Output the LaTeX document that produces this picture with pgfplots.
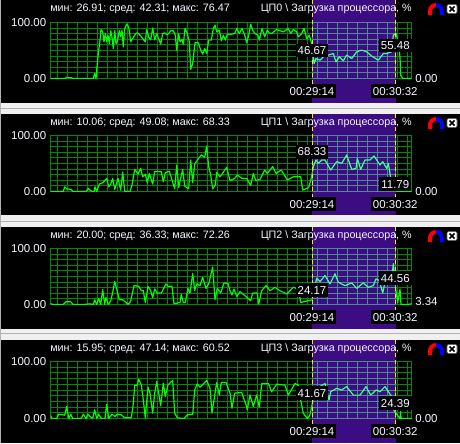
\documentclass[border=0pt]{standalone}
\usepackage{pgfplots}
\pgfplotsset{compat=1.18}
\usepackage{pgfplotstable}
\usepackage{fontspec}
\setmainfont{Liberation Sans}
\definecolor{gridg}{HTML}{008A00}
\definecolor{gridp}{HTML}{4A8A90}
\definecolor{sel}{HTML}{3C0C82}
\definecolor{mint}{HTML}{40FF90}
\definecolor{ln}{HTML}{00FF00}
\definecolor{pagebg}{HTML}{F0F0F0}
\definecolor{txt}{HTML}{F4F8FF}
\pgfplotstableread[row sep=\\]{x y\\50 0\\65 0\\66.7 1.8\\71.7 1.2\\72.7 0\\93.3 0\\94.7 8.9\\96 0\\97.3 26.8\\98.7 50.6\\100 68.5\\101 87.5\\102.7 83.3\\104 65.5\\105.3 80.4\\106.7 65.5\\108 77.4\\109.3 62.5\\110.7 85.3\\112 73.8\\113.3 53.6\\114.7 85.3\\116 62.5\\117.3 65.5\\119.3 85.3\\120.7 74.4\\122 86.3\\123.3 56.5\\124.7 89.3\\126.7 97\\128.7 92.3\\130.7 65.5\\132.7 71.4\\134.7 77.4\\136 80.4\\137.3 81.5\\140 77.4\\142.7 71.4\\145.3 65.5\\146.7 87.5\\148.7 73.8\\150.7 69\\152.7 90.3\\154.7 69\\156.7 80.4\\158.7 71.4\\160.7 61.3\\162.7 80.4\\164.7 81.5\\166.7 78\\168.7 80.4\\170.7 85.3\\173.3 85.3\\175.3 77.4\\176.7 50.6\\178.7 80.4\\180 65.5\\182 69.6\\183.3 61.3\\185 89.3\\187.3 80.4\\189.3 65.5\\190.7 16.1\\192.7 26.8\\195 63.7\\198.3 63.7\\200.7 50.6\\202.7 43.5\\204.7 53.6\\206.7 44.6\\208.7 68.5\\211.3 68.5\\213.3 89.3\\215 95.2\\216.7 83.3\\219.3 86.3\\221.3 67.3\\223.3 77.4\\225.3 68.5\\227.3 79.2\\230 78.6\\234.7 80.4\\236.7 89.3\\239.3 80.4\\242 89.3\\244.7 77.4\\246.7 63.7\\248.7 77.4\\250.7 97\\252.7 86.3\\254.7 80.4\\258 77.4\\259.3 68.5\\262 89.3\\264.7 74.4\\267.3 86.3\\269.3 81.5\\271.7 80.4\\276.7 87.5\\283.3 83.3\\288.3 89.3\\290.7 80.4\\293.3 87.5\\296.7 83.3\\298.3 74.4\\301.7 80.4\\304 89.3\\306.7 71.4\\309.3 77.4\\311.7 62.5\\314 26.8\\316 35.7\\320 32.7\\323.3 38.7\\328.3 41.7\\333.3 44.6\\336 29.8\\339.3 38.7\\343.3 31.7\\346.7 41.7\\351.7 35.7\\356.7 47.6\\361.7 50.6\\366.7 47.6\\371.7 40\\378.3 32.7\\383.3 44.6\\386.7 44.6\\391.7 47.6\\393.3 77.4\\396 80.4\\397.7 68.5\\400 38.7\\400.7 6\\402.7 0\\411.7 0\\}\cpua
\pgfplotstableread[row sep=\\]{x y\\50 0\\63.3 0\\64.7 8.4\\66.7 4.8\\71.3 3.6\\72.7 0\\86 0\\88.3 5.4\\91.7 0\\94 0\\95 8.4\\96.7 0\\99.3 13.2\\102.7 15.6\\106.7 23.4\\108.7 8.4\\110.7 13.2\\112.7 23.4\\114.7 3.6\\118 23.4\\120.7 2.4\\122.7 34.7\\124.7 0\\130 0\\132 11.4\\134.7 39.5\\138 31.1\\140.7 41.3\\142.7 26.3\\145.3 31.1\\147.3 15.6\\149.3 32.3\\152.7 13.2\\154.7 35.9\\161.3 35.3\\163.3 17.4\\165.3 33.5\\169.3 36.5\\174.7 4.8\\176.7 47.3\\178.7 7.2\\182.7 39.5\\184.7 9.6\\188.7 4.8\\190.7 56.3\\192.7 15.6\\194.7 49.1\\198.7 59.3\\201.3 65.3\\204.7 61.1\\206.7 81.4\\208.7 44.3\\210.7 29.3\\212.7 4.8\\215.3 11.4\\216.7 34.1\\220 26.3\\226.7 43.1\\230 19.2\\234.7 23.4\\237.3 29.3\\242 23.4\\246.7 23.4\\250.7 10.8\\253.3 32.3\\256 19.2\\260 21.6\\264.7 38.3\\267.3 32.3\\272.7 44.3\\276 32.3\\281.3 38.3\\287.3 20.4\\293.3 26.3\\300.7 26.3\\302.7 2.4\\308.7 7.2\\311.3 23.4\\313.3 44.3\\316 56.3\\318.3 50.3\\321.7 56.3\\325 56.3\\330.7 38.3\\336.7 53.3\\341.7 50.3\\346.7 65.3\\351.7 39.5\\356 41.3\\357.3 59.3\\360.7 39.5\\365 56.3\\370 56.3\\374 63.5\\380 47.3\\382.7 53.3\\386.7 41.3\\388.3 50.3\\390 32.3\\391.3 14.4\\396.7 0\\411.7 0\\}\cpub
\pgfplotstableread[row sep=\\]{x y\\50 1.8\\53.3 0\\63.3 0\\66 4.8\\70.7 4.8\\73.3 0\\83.3 0\\90 1.2\\93.3 0\\94.7 8.4\\96.7 0\\98.7 10.8\\100.7 0\\102.7 26.5\\104.7 0\\106 12.7\\108.3 0\\110.7 6.6\\112.7 21.7\\114.7 41\\116.7 27.7\\119.3 8.4\\122.7 8.4\\126 3.6\\128 0\\130.7 6\\134 33.7\\138.7 32.5\\141.3 24.7\\143.3 24.7\\145.3 3.6\\148 32.5\\150.7 24.7\\152.7 12\\154.7 27.7\\157.3 20.5\\161.3 20.5\\166 36.8\\168 32.5\\172 32.5\\174 1.2\\180 3.6\\181.3 18\\183.3 3.6\\185.3 3.6\\188 28.9\\190 20.5\\192.7 55.4\\194.7 24.7\\196.7 36.8\\200 33.7\\202.7 48.8\\206 28.9\\208.7 36.8\\212.7 66.9\\215 8.4\\217.3 28.9\\220.7 20.5\\224 38.6\\228 37.4\\230 24.7\\232 16.9\\234 27.7\\236.7 14.5\\240 22.9\\245 15.7\\250.7 6.6\\252.7 20.5\\257.3 20.5\\258.7 0.6\\261.7 24.7\\266 33.7\\270 24.7\\275 30.7\\280 24.7\\286.7 18.7\\293.3 30.7\\298.3 27.7\\300.7 3.6\\312 8.4\\316.7 46.9\\320 40.9\\325 51.8\\330 36.8\\335 54.8\\338.3 39.8\\345 33.7\\351.7 38.6\\356.7 28.9\\363.3 38.6\\368.3 30.7\\373.3 33.7\\376 45.8\\379.3 42.8\\382.7 20.5\\385 39.8\\391.7 42.8\\393.3 72.9\\395.7 27.7\\397.7 3.6\\400 27.7\\401 0\\406.7 0\\411.7 1.2\\}\cpuc
\pgfplotstableread[row sep=\\]{x y\\50 7.6\\52 0\\56.7 0\\58.7 7.6\\64.7 5.8\\66.7 21.1\\68.7 0\\70.7 7.6\\72.7 0\\81.3 0\\83.3 7.6\\86 0\\88 7.6\\90 3.5\\92.7 0\\94.7 15.2\\96.7 0\\98.7 7.6\\101.3 0\\105 0\\106.7 25.1\\108.7 0\\112 7.6\\115 3.5\\117.3 7.6\\121.3 6.4\\124.7 1.2\\131.3 1.2\\133.3 25.7\\134.7 58.5\\137.3 58.5\\138.7 69\\141.3 59.1\\143.3 32.7\\145.3 1.2\\148 55\\150 44.5\\152.7 9.4\\154.7 44.5\\156.7 64.9\\158.7 44.5\\160.7 22.2\\163.3 62.1\\165.3 38.6\\168 59.1\\172.7 66.7\\174.7 9.4\\177.3 1.2\\184 0\\187.3 6.4\\192.7 7.6\\194.7 50.3\\197.3 60.8\\200 55\\206.7 66.7\\210 53.2\\212 9.4\\214 32.7\\216.7 63.2\\219.3 41.5\\221.3 63.2\\226 63.2\\230 44.5\\232 18.1\\234.7 44.5\\241.7 45.6\\246 24\\247.3 15.2\\250 41.5\\253.3 21.1\\256.7 41.5\\259.3 19.9\\261.7 61.4\\268.3 61.4\\271.7 47\\276.7 60.2\\285 58.5\\288.3 41\\295 61.4\\298.3 58.5\\300.7 32.2\\303.3 9.4\\307.3 0\\310 6.4\\312.7 29.8\\314 50\\325 61.4\\329 32.2\\330.7 47\\336.7 53\\341.7 50\\346.7 56\\353.3 41\\360 41\\366 56\\370.7 41\\376 50\\380 47\\385 56\\391.7 38.6\\394 14\\400 0\\400.7 12\\401 0\\411.7 0\\}\cpud
\pgfplotsset{
  panelstyle/.style={scale only axis,anchor=south west,
    height=#1,ymin=0,ymax=100,
    xticklabels={},yticklabels={},
    major tick length=0pt,minor tick length=0pt,
    ytick={0,10,20,30,40,50,60,70,80,90,100},
    xmajorgrids,ymajorgrids,
    every axis plot/.append style={line width=0.9pt,mark=none,line join=round}},
}
\newcommand\panelA[7]{%
  \fill[black] (1,#4) rectangle (460,#5);
  \fill[sel] (312,#4) rectangle (396,#5);
  \begin{axis}[panelstyle=#3*0.75pt-#2*0.75pt,at={(50.5*0.75pt,-#3*0.75pt)},
    width=361*0.75pt,xmin=50.5,xmax=411.5,
    xtick={57.5,67.5,...,407.5},
    axis line style={draw=gridg,line width=0.75pt},
    grid style={color=gridg,line width=0.75pt}]
    \addplot[ln] table[x=x,y=y] {#1};
  \end{axis}
  \begin{axis}[panelstyle=#3*0.75pt-#2*0.75pt,at={(312.5*0.75pt,-#3*0.75pt)},
    width=83*0.75pt,xmin=312.5,xmax=395.5,
    xtick={317.5,327.5,...,387.5},
    axis background/.style={fill=sel},
    axis line style={draw=gridp,line width=0.75pt},
    grid style={color=gridp,line width=0.75pt}]
    \addplot[mint] table[x=x,y=y] {#1};
  \end{axis}
  \draw[yellow!90!orange,dash pattern=on 3pt off 2pt,line width=0.75pt] (312.5,#4) -- (312.5,#3+8);
  \draw[yellow!90!orange,dash pattern=on 3pt off 2pt,line width=0.75pt] (395.5,#4) -- (395.5,#3+8);
  \node[lab,anchor=east] at (46.5,#2) {100.00};
  \node[lab,anchor=east] at (46.5,#3) {0.00};
  \node[ttl,anchor=west] at (50,#4+9) {#6};
  \node[ttl,anchor=east] at (412,#4+9) {#7};
}
\newcommand\magnet[1]{%
  \draw[red,line width=3pt] (430,#1+15) -- (430,#1+11) arc[start angle=180,end angle=270,radius=6.0];
  \draw[blue,line width=3pt] (436,#1+5) arc[start angle=270,end angle=360,radius=6.0] -- (442,#1+15);
  \fill[white,rounded corners=1pt] (447,#1+4.5) rectangle (457,#1+13.5);
  \draw[black,line width=1.2pt] (449.5,#1+6.5) -- (454.5,#1+11.5) (449.5,#1+11.5) -- (454.5,#1+6.5);
  \draw[black!60,line width=0.4pt,rounded corners=1pt] (447,#1+4.5) rectangle (457,#1+13.5);
}
\tikzset{lab/.style={text=txt,font=\fontsize{8.6pt}{10pt}\selectfont,inner sep=0pt},
  ttl/.style={text=txt,font=\fontsize{8.05pt}{10pt}\selectfont,inner sep=0pt},
  val/.style={lab,fill=black,inner xsep=1.5pt,inner ysep=2.2pt,text depth=0pt}}
\begin{document}
\begin{tikzpicture}[x=0.75pt,y=-0.75pt]
\clip (0,0) rectangle (460,443);
\fill[pagebg] (0,0) rectangle (460,443);
\draw[black!30,line width=0.6pt] (0,108.5) -- (460,108.5) (0,221) -- (460,221) (0,333) -- (460,333) (0,0) -- (0,443);

\panelA{\cpua}{22.5}{78.5}{0}{103}{мин: 26.91; сред: 42.31; макс: 76.47}{ЦП0 \textbackslash\ Загрузка процессора, \%}
\panelA{\cpub}{135.5}{191.5}{114}{215}{мин: 10.06; сред: 49.08; макс: 68.33}{ЦП1 \textbackslash\ Загрузка процессора, \%}
\panelA{\cpuc}{248.5}{304.5}{227}{329}{мин: 20.00; сред: 36.33; макс: 72.26}{ЦП2 \textbackslash\ Загрузка процессора, \%}
\panelA{\cpud}{361.5}{418.5}{340}{443}{мин: 15.95; сред: 47.14; макс: 60.52}{ЦП3 \textbackslash\ Загрузка процессора, \%}

\node[val] at (312,50.5) {46.67};
\node[val] at (395.3,45.5) {55.48};
\node[val] at (312,91.3) {00:29:14};
\node[val] at (395.3,91.3) {00:30:32};
\node[lab,anchor=west] at (415,78.3) {0.00};

\node[val] at (312,151.7) {68.33};
\node[val] at (395.3,184) {11.79};
\node[val] at (312,204.3) {00:29:14};
\node[val] at (395.3,204.3) {00:30:32};
\node[lab,anchor=west] at (415,191.3) {0.00};

\node[val] at (312,290.3) {24.17};
\node[val] at (395.3,278) {44.56};
\node[val] at (312,317) {00:29:14};
\node[val] at (395.3,317) {00:30:32};
\node[lab,anchor=west] at (415,301.5) {3.34};

\node[val] at (312,393) {41.67};
\node[val] at (395.3,403) {24.39};
\node[val] at (312,431.3) {00:29:14};
\node[val] at (395.3,431.3) {00:30:32};
\node[lab,anchor=west] at (415,418.3) {0.00};

\magnet{0}
\magnet{114}
\magnet{227}
\magnet{340}
\end{tikzpicture}
\end{document}
